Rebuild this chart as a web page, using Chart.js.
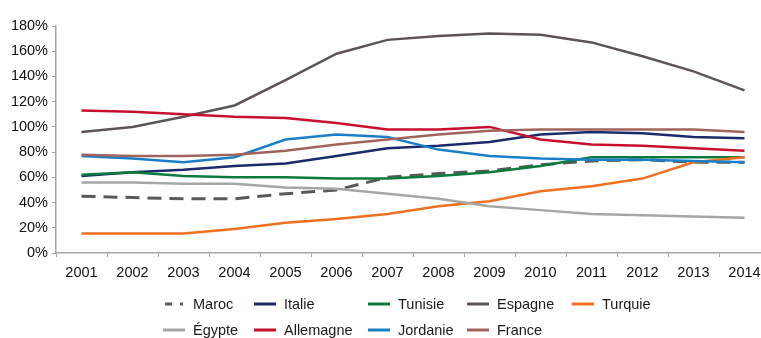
<!DOCTYPE html>
<html>
<head>
<meta charset="utf-8">
<script src="https://cdn.jsdelivr.net/npm/chart.js@4.4.1/dist/chart.umd.min.js"></script>
<style>
  html, body { margin: 0; padding: 0; background: #fff; overflow: hidden; }
  #wrap { position: relative; width: 800px; height: 338px; }
</style>
</head>
<body>
<div id="wrap"><canvas id="grafico"></canvas></div>
<script>
const annees = ['2001', '2002', '2003', '2004', '2005', '2006', '2007', '2008', '2009', '2010', '2011', '2012', '2013', '2014'];

const maroc     = [45, 44, 43, 43, 47, 50, 60, 63, 65, 70, 73, 74, 72, 72];
const italie    = [61, 64, 66, 69, 71, 77, 83, 85, 88, 94, 96, 95, 92, 91];
const tunisie   = [62, 64, 61, 60, 60, 59, 59, 61, 64, 69, 76, 76, 76, 76];
const espagne   = [96, 100, 108, 117, 137, 158, 169, 172, 174, 173, 167, 156, 144, 129];
const turquie   = [15.5, 15.5, 15.5, 19, 24, 27, 31, 37, 41, 49, 53, 59, 72, 76];
const egypte    = [56, 56, 55, 55, 52, 51, 47, 43, 37, 34, 31, 30, 29, 28];
const allemagne = [113, 112, 110, 108, 107, 103, 98, 98, 100, 90, 86, 85, 83, 81];
const jordanie  = [77, 75, 72, 76, 90, 94, 92, 82, 77, 75, 74, 74, 73, 72];
const france    = [78, 77, 77, 78, 81, 86, 90, 94, 97, 98, 98, 98, 98, 96];

const pays = ['Maroc', 'Italie', 'Tunisie', 'Espagne', 'Turquie', 'Égypte', 'Allemagne', 'Jordanie', 'France'];
const series = [maroc, italie, tunisie, espagne, turquie, egypte, allemagne, jordanie, france];
const couleurs = ['#595959', '#1b2a6b', '#0c7a3c', '#5e5356', '#f07021', '#a6a6a6', '#c8102e', '#1a7fc7', '#a0645c'];

const police = '"Liberation Sans", Arial, sans-serif';
const gris = '#a6a6a6';

const datasets = pays.map((nom, i) => ({
    label: nom,
    data: series[i],
    borderColor: couleurs[i],
    backgroundColor: couleurs[i],
    borderWidth: i === 0 ? 3 : 2.5,
    borderDash: i === 0 ? [14, 8] : [],
    pointRadius: 0,
    tension: 0,
    fill: false,
    order: pays.length - i
}));

// legende sur deux lignes, colonnes alignees
const legendeColonnes = [193, 284, 398, 497, 602];
const legendeLignes = [304, 330];

const legendePlugin = {
    id: 'legendePays',
    afterDraw(chart) {
        const ctx = chart.ctx;
        ctx.save();
        ctx.font = '14.5px ' + police;
        ctx.textBaseline = 'middle';
        chart.data.datasets.forEach((ds, i) => {
            const x = legendeColonnes[i % 5];
            const y = legendeLignes[Math.floor(i / 5)];
            ctx.strokeStyle = ds.borderColor;
            ctx.lineWidth = 3;
            ctx.beginPath();
            if (i === 0) {
                ctx.moveTo(x - 28, y); ctx.lineTo(x - 21, y);
                ctx.moveTo(x - 13, y); ctx.lineTo(x - 10, y);
            } else {
                ctx.moveTo(x - 30, y); ctx.lineTo(x - 8, y);
            }
            ctx.stroke();
            ctx.fillStyle = '#1a1a1a';
            ctx.fillText(ds.label, x, y + 1);
        });
        ctx.restore();
    }
};

new Chart(document.getElementById('grafico'), {
    type: 'line',
    data: { labels: annees, datasets: datasets },
    options: {
        responsive: true,
        maintainAspectRatio: false,
        animation: false,
        layout: { padding: { top: 26, right: 30, bottom: 55, left: 0 } },
        plugins: { legend: { display: false }, tooltip: { enabled: false } },
        scales: {
            x: {
                offset: true,
                grid: { offset: true, drawOnChartArea: false, tickLength: 4, color: gris },
                border: { color: gris, width: 1.5 },
                ticks: { color: '#111', font: { family: police, size: 14.5 }, padding: 7, maxRotation: 0 },
                afterFit(scale) { scale.height = 30; }
            },
            y: {
                min: 0,
                max: 180,
                grid: { drawOnChartArea: false, tickLength: 4, color: gris },
                border: { color: gris, width: 1.5 },
                ticks: {
                    stepSize: 20,
                    color: '#111',
                    font: { family: police, size: 14.5 },
                    padding: 4,
                    callback: v => v + '%'
                },
                afterFit(scale) { scale.width = 56; }
            }
        }
    },
    plugins: [legendePlugin]
});
</script>
</body>
</html>
